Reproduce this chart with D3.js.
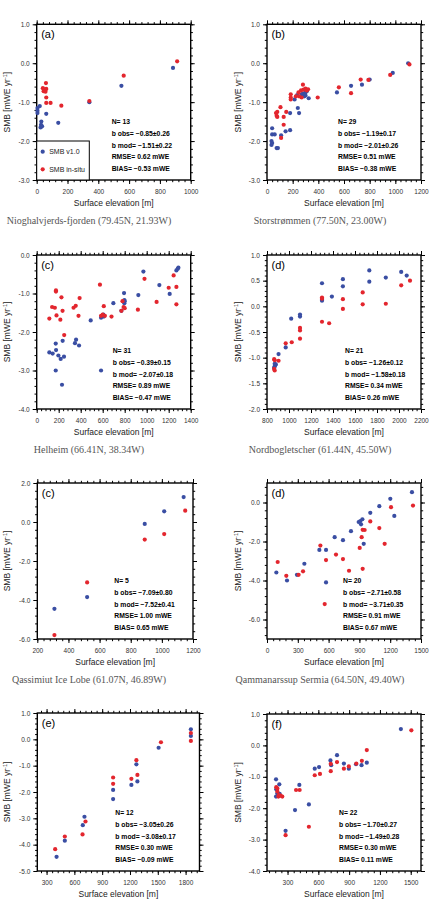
<!DOCTYPE html>
<html>
<head>
<meta charset="utf-8">
<script src="https://cdn.jsdelivr.net/npm/d3@7"></script>
<style>
  body { margin: 0; background: #fff; }
  text { font-family: "Liberation Sans", Arial, sans-serif; }
  .ttl { font-family: "Liberation Serif", "DejaVu Serif", serif; fill: #555; }
</style>
</head>
<body>
<div id="chart"></div>
<script>
// ---- data: [elevation m, SMB mWE/yr] ----
const nioV1 = [[5,-1.15],[5,-1.22],[5,-1.28],[20,-1.10],[30,-1.50],[28,-1.58],[25,-1.65],[35,-1.62],[62,-1.30],[140,-1.53],[342,-1.00],[550,-0.58],[885,-0.12]];
const nioObs = [[60,-0.51],[40,-0.64],[50,-0.67],[62,-0.66],[45,-0.72],[57,-0.73],[62,-0.88],[62,-1.02],[90,-1.02],[160,-1.09],[342,-0.97],[565,-0.32],[912,0.05]];

const stoV1 = [[40,-1.67],[40,-1.83],[60,-1.83],[35,-2.00],[40,-2.05],[35,-2.10],[75,-2.18],[85,-2.18],[110,-1.85],[145,-1.75],[180,-1.72],[180,-1.28],[215,-0.93],[235,-0.82],[240,-1.15],[250,-1.28],[270,-0.80],[280,-0.78],[290,-0.85],[300,-0.75],[300,-0.83],[310,-0.72],[325,-0.90],[545,-0.75],[655,-0.58],[740,-0.55],[800,-0.42],[980,-0.25],[1100,0.00]];
const stoObs = [[70,-1.28],[75,-1.35],[80,-1.38],[80,-1.25],[105,-1.13],[110,-1.92],[130,-1.58],[130,-1.38],[150,-1.25],[185,-0.80],[185,-0.88],[185,-0.93],[225,-0.85],[245,-0.75],[250,-0.85],[265,-0.70],[270,-0.88],[280,-0.55],[285,-0.68],[300,-0.65],[310,-0.70],[320,-0.67],[395,-0.88],[560,-0.62],[655,-0.77],[730,-0.42],[790,-0.43],[960,-0.30],[1110,-0.03]];

const helV1 = [[115,-2.53],[145,-2.56],[173,-2.30],[176,-2.47],[197,-2.61],[218,-2.70],[236,-2.23],[248,-2.64],[173,-3.00],[230,-3.37],[348,-2.29],[358,-2.20],[385,-2.35],[491,-1.70],[585,-1.63],[585,-3.00],[606,-1.55],[610,-1.60],[697,-1.25],[770,-1.45],[794,-0.99],[797,-1.17],[797,-1.25],[800,-1.20],[924,-1.04],[970,-0.43],[1115,-0.78],[1209,-1.01],[1270,-0.40],[1282,-0.36],[1288,-0.33]];
const helObs = [[115,-1.65],[140,-1.35],[165,-1.37],[175,-0.92],[175,-0.95],[180,-1.57],[215,-1.68],[225,-1.10],[235,-1.45],[250,-2.08],[335,-1.37],[355,-1.32],[380,-1.58],[390,-1.12],[575,-0.77],[585,-1.58],[600,-1.55],[610,-1.33],[620,-1.58],[680,-1.60],[770,-1.45],[780,-1.20],[790,-1.35],[800,-1.38],[920,-1.42],[980,-0.62],[1090,-1.22],[1200,-0.85],[1245,-0.53],[1270,-1.28],[1270,-0.83]];

const norV1 = [[868,-1.18],[875,-1.15],[880,-1.13],[870,-1.12],[865,-1.20],[905,-0.93],[970,-0.80],[1020,-0.24],[1100,-0.20],[1100,-0.16],[1300,0.45],[1300,0.11],[1300,0.13],[1390,0.19],[1490,0.53],[1490,0.39],[1730,0.70],[1730,0.48],[1880,0.56],[2020,0.67],[2070,0.60]];
const norObs = [[865,-1.03],[870,-1.05],[865,-1.22],[870,-1.25],[905,-1.06],[970,-0.72],[1025,-0.70],[1100,-0.42],[1100,-0.47],[1100,-0.63],[1300,0.17],[1300,0.15],[1300,-0.30],[1365,-0.33],[1490,0.14],[1490,-0.05],[1670,0.27],[1670,0.04],[1880,0.05],[2020,0.41],[2100,0.50]];

const qasV1 = [[310,-4.45],[520,-3.85],[890,-0.10],[1015,0.55],[1140,1.28]];
const qasObs = [[310,-5.80],[520,-3.10],[890,-0.90],[1015,-0.62],[1150,0.58]];

const qamV1 = [[91,-3.59],[195,-4.00],[292,-3.71],[364,-3.14],[510,-2.43],[575,-2.43],[575,-4.10],[659,-1.78],[740,-1.93],[818,-1.47],[893,-1.00],[909,-0.95],[916,-1.12],[929,-0.86],[942,-2.12],[1006,-0.53],[1094,-0.19],[1201,0.19],[1240,-0.69],[1412,0.53]];
const qamObs = [[104,-3.05],[188,-3.76],[308,-3.71],[351,-3.53],[520,-2.21],[562,-5.21],[575,-2.95],[672,-2.67],[740,-2.90],[799,-3.50],[903,-2.33],[922,-1.78],[932,-1.40],[951,-1.41],[932,-3.40],[1006,-0.97],[1094,-1.31],[1146,-2.12],[1208,-0.24],[1422,-0.16]];

const eV1 = [[408,-4.46],[497,-3.85],[691,-3.26],[709,-2.94],[1018,-2.27],[1018,-1.92],[1215,-1.73],[1269,-0.95],[1280,-1.60],[1509,-0.32],[1857,0.38],[1857,0.13]];
const eObs = [[393,-4.17],[497,-3.69],[688,-3.61],[720,-3.12],[1018,-1.45],[1018,-1.69],[1215,-1.50],[1269,-0.79],[1280,-1.35],[1534,-0.11],[1857,0.24],[1857,-0.06]];

const fV1 = [[188,-1.08],[188,-1.63],[201,-1.52],[205,-1.58],[220,-1.24],[223,-1.54],[281,-2.72],[373,-2.06],[415,-1.26],[508,-1.88],[565,-0.74],[607,-0.69],[718,-0.48],[725,-0.63],[782,-0.31],[849,-0.58],[897,-0.74],[967,-0.60],[1021,-0.63],[1072,-0.55],[1404,0.52],[190,-1.40]];
const fObs = [[190,-1.33],[201,-1.37],[201,-1.47],[211,-1.63],[215,-1.58],[233,-1.60],[249,-1.63],[281,-2.86],[383,-1.42],[418,-1.42],[508,-2.59],[565,-0.95],[616,-0.91],[721,-0.82],[721,-0.59],[782,-0.53],[849,-0.74],[897,-0.67],[970,-0.58],[1024,-0.49],[1072,-0.15],[1506,0.48]];

// stats lines shown in each panel
const nioStats = ["N= 13", "b obs= \u22120.85\u00b10.26", "b mod= \u22121.51\u00b10.22", "RMSE= 0.62 mWE", "BIAS= \u22120.53 mWE"];
const stoStats = ["N= 29", "b obs= \u22121.19\u00b10.17", "b mod= \u22122.01\u00b10.26", "RMSE= 0.51 mWE", "BIAS= \u22120.38 mWE"];
const helStats = ["N= 31", "b obs= \u22120.39\u00b10.15", "b mod= \u22122.07\u00b10.18", "RMSE= 0.89 mWE", "BIAS= \u22120.47 mWE"];
const norStats = ["N= 21", "b obs= \u22121.26\u00b10.12", "b mod= \u22121.58\u00b10.18", "RMSE= 0.34 mWE", "BIAS= 0.26 mWE"];
const qasStats = ["N= 5", "b obs= \u22127.09\u00b10.80", "b mod= \u22127.52\u00b10.41", "RMSE= 1.00 mWE", "BIAS= 0.65 mWE"];
const qamStats = ["N= 20", "b obs= \u22122.71\u00b10.58", "b mod= \u22123.71\u00b10.35", "RMSE= 0.91 mWE", "BIAS= 0.67 mWE"];
const eStats = ["N= 12", "b obs= \u22123.05\u00b10.26", "b mod= \u22123.08\u00b10.17", "RMSE= 0.30 mWE", "BIAS= \u22120.09 mWE"];
const fStats = ["N= 22", "b obs= \u22121.70\u00b10.27", "b mod= \u22121.49\u00b10.28", "RMSE= 0.30 mWE", "BIAS= 0.11 mWE"];

// tick values
const xTicks1000 = [0, 200, 400, 600, 800, 1000];
const xTicks1200 = [0, 200, 400, 600, 800, 1000, 1200];
const xTicks1400 = [0, 200, 400, 600, 800, 1000, 1200, 1400];
const xTicksNor = [800, 1000, 1200, 1400, 1600, 1800, 2000, 2200];
const xTicksQas = [200, 400, 600, 800, 1000, 1200];
const xTicksQam = [0, 300, 600, 900, 1200, 1500];
const xTicksE = [300, 600, 900, 1200, 1500, 1800];
const xTicksF = [300, 600, 900, 1200, 1500];
const yTicks1to3 = [1, 0, -1, -2, -3];
const yTicks0to4 = [0, -1, -2, -3, -4];
const yTicksNor = [1, 0.5, 0, -0.5, -1, -1.5, -2];
const yTicksQas = [2, 0, -2, -4, -6];
const yTicksQam = [0, -2, -4, -6];
const yTicksE = [1, 0, -1, -2, -3, -4, -5];
const yTicksF = [1, 0, -1, -2, -3, -4];

const titles = [
  "Nioghalvjerds-fjorden (79.45N, 21.93W)",
  "Storstr\u00f8mmen (77.50N, 23.00W)",
  "Helheim (66.41N, 38.34W)",
  "Nordbogletscher (61.44N, 45.50W)",
  "Qassimiut Ice Lobe (61.07N, 46.89W)",
  "Qammanarssup Sermia (64.50N, 49.40W)"
];

const blue = "#3a4ea3", red = "#e3262e";

const panels = [
  {letter: "(a)", title: titles[0], v1: nioV1, obs: nioObs, stats: nioStats, xd: [0, 1000], xt: xTicks1000, xm: 40, yd: [-3, 1], yt: yTicks1to3, ym: 0.2, box: [36.7, 24.3, 190.7, 180], sx: 75, legend: true},
  {letter: "(b)", title: titles[1], v1: stoV1, obs: stoObs, stats: stoStats, xd: [0, 1200], xt: xTicks1200, xm: 40, yd: [-3, 1], yt: yTicks1to3, ym: 0.2, box: [267, 24.3, 421, 180], sx: 71},
  {letter: "(c)", title: titles[2], v1: helV1, obs: helObs, stats: helStats, xd: [0, 1400], xt: xTicks1400, xm: 40, yd: [-4, 0], yt: yTicks0to4, ym: 0.2, box: [36.7, 255, 190.7, 409], sx: 76},
  {letter: "(d)", title: titles[3], v1: norV1, obs: norObs, stats: norStats, xd: [800, 2200], xt: xTicksNor, xm: 40, yd: [-2, 1], yt: yTicksNor, ym: 0.1, box: [267, 255, 421, 409], sx: 78},
  {letter: "(c)", title: titles[4], v1: qasV1, obs: qasObs, stats: qasStats, xd: [200, 1200], xt: xTicksQas, xm: 40, yd: [-6, 2], yt: yTicksQas, ym: 0.4, box: [37.3, 483, 193, 639], sx: 77},
  {letter: "(d)", title: titles[5], v1: qamV1, obs: qamObs, stats: qamStats, xd: [0, 1500], xt: xTicksQam, xm: 60, yd: [-7, 1], yt: yTicksQam, ym: 0.4, box: [267, 483, 421, 639], sx: 76},
  {letter: "(e)", title: null, v1: eV1, obs: eObs, stats: eStats, xd: [200, 1950], xt: xTicksE, xm: 60, yd: [-5, 1], yt: yTicksE, ym: 0.2, box: [37.3, 713, 199.5, 871], sx: 78},
  {letter: "(f)", title: null, v1: fV1, obs: fObs, stats: fStats, xd: [100, 1600], xt: xTicksF, xm: 60, yd: [-4, 1], yt: yTicksF, ym: 0.2, box: [267, 714, 421, 871], sx: 72}
];

const svg = d3.select("#chart").append("svg")
  .attr("width", 434).attr("height", 905);

const yfmt = d => (d < 0 ? "-" : "") + d3.format(".1f")(Math.abs(d));

function minorTicks(dom, step) {
  const lo = Math.ceil(dom[0] / step - 1e-9) * step;
  return d3.range(lo, dom[1] + step * 0.01, step);
}

panels.forEach(function(p, i) {
  const [x0, y0, x1, y1] = p.box;
  const x = d3.scaleLinear().domain(p.xd).range([x0, x1]);
  const y = d3.scaleLinear().domain(p.yd).range([y1, y0]);
  const g = svg.append("g");
  const mx = minorTicks(p.xd, p.xm), my = minorTicks(p.yd, p.ym);

  // minor ticks on all four sides
  const axes = [
    [d3.axisBottom(x).tickValues(mx), "translate(0," + y1 + ")"],
    [d3.axisTop(x).tickValues(mx), "translate(0," + y0 + ")"],
    [d3.axisLeft(y).tickValues(my), "translate(" + x0 + ",0)"],
    [d3.axisRight(y).tickValues(my), "translate(" + x1 + ",0)"]
  ];
  axes.forEach(function(a) {
    g.append("g").attr("transform", a[1])
      .call(a[0].tickSize(2.2).tickSizeOuter(0).tickFormat(""))
      .call(s => s.select(".domain").remove())
      .selectAll("line").attr("stroke", "#000").attr("stroke-width", 0.8);
  });

  // major ticks
  const xb = g.append("g").attr("transform", "translate(0," + y1 + ")")
    .call(d3.axisBottom(x).tickValues(p.xt).tickSize(4).tickSizeOuter(0).tickPadding(5.5).tickFormat(d3.format("d")));
  g.append("g").attr("transform", "translate(0," + y0 + ")")
    .call(d3.axisTop(x).tickValues(p.xt).tickSize(4).tickSizeOuter(0).tickFormat(""));
  const yl = g.append("g").attr("transform", "translate(" + x0 + ",0)")
    .call(d3.axisLeft(y).tickValues(p.yt).tickSize(4).tickSizeOuter(0).tickPadding(3).tickFormat(yfmt));
  g.append("g").attr("transform", "translate(" + x1 + ",0)")
    .call(d3.axisRight(y).tickValues(p.yt).tickSize(4).tickSizeOuter(0).tickFormat(""));
  g.selectAll(".domain").remove();
  g.selectAll(".tick line").attr("stroke", "#000").attr("stroke-width", 1);
  g.selectAll(".tick text").attr("font-size", 6.5).attr("fill", "#333")
    .style("font-family", "'Liberation Sans', Arial, sans-serif");

  // frame
  g.append("rect").attr("x", x0).attr("y", y0)
    .attr("width", x1 - x0).attr("height", y1 - y0)
    .attr("fill", "none").attr("stroke", "#000").attr("stroke-width", 1.4);

  // points
  g.selectAll(".v1").data(p.v1).enter().append("circle")
    .attr("cx", d => x(d[0])).attr("cy", d => y(d[1])).attr("r", 2.1).attr("fill", blue);
  g.selectAll(".obs").data(p.obs).enter().append("circle")
    .attr("cx", d => x(d[0])).attr("cy", d => y(d[1])).attr("r", 2.1).attr("fill", red);

  // panel letter
  g.append("text").attr("x", x0 + 4.5).attr("y", y0 + 14)
    .attr("font-size", 11).text(p.letter);

  // stats block
  const lh = 11.7;
  g.append("g").selectAll("text").data(p.stats).enter().append("text")
    .attr("x", x0 + p.sx)
    .attr("y", (d, k) => y1 - 9 - (4 - k) * lh)
    .attr("font-size", 6.8).attr("font-weight", "bold").text(d => d);

  // axis labels
  const ylx = (i % 2 === 0) ? 9.5 : 240.5;
  g.append("text")
    .attr("transform", "translate(" + ylx + "," + ((y0 + y1) / 2) + ") rotate(-90)")
    .attr("text-anchor", "middle").attr("font-size", 8.5).attr("fill", "#222")
    .html("SMB [mWE yr<tspan dy='-3' font-size='5.5'>-1</tspan><tspan dy='3'>]</tspan>");
  g.append("text").attr("x", (x0 + x1) / 2).attr("y", y1 + 25.5)
    .attr("text-anchor", "middle").attr("font-size", 8.5).attr("fill", "#222")
    .text("Surface elevation [m]");

  if (p.title) {
    g.append("text").attr("class", "ttl")
      .attr("x", (i % 2 === 0) ? 89 : 320).attr("y", y1 + 44)
      .attr("text-anchor", "middle").attr("font-size", 10).text(p.title);
  }

  if (p.legend) {
    const lg = g.append("g");
    lg.append("rect").attr("x", x0).attr("y", 141)
      .attr("width", 52.6).attr("height", y1 - 141)
      .attr("fill", "#fff").attr("stroke", "#000").attr("stroke-width", 1);
    [["SMB v1.0", blue, 151.7], ["SMB in-situ", red, 169.3]].forEach(function(e) {
      lg.append("circle").attr("cx", x0 + 6).attr("cy", e[2]).attr("r", 2.1).attr("fill", e[1]);
      lg.append("text").attr("x", x0 + 12.5).attr("y", e[2] + 2.5)
        .attr("font-size", 7).attr("fill", "#222").text(e[0]);
    });
  }
});
</script>
</body>
</html>
